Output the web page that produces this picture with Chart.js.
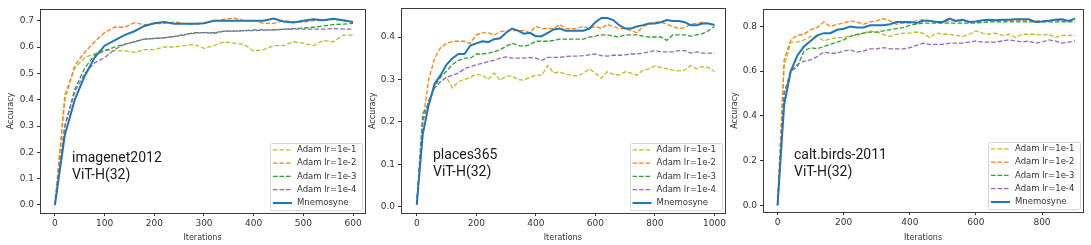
<!DOCTYPE html>
<html>
<head>
<meta charset="utf-8">
<script src="https://cdn.jsdelivr.net/npm/chart.js@4/dist/chart.umd.min.js"></script>
<style>
    body { margin: 0; background: #fff; }
    #wrap { position: relative; width: 1091px; height: 245px; overflow: hidden; }
    #wrap canvas { position: absolute; top: 0; }
    .note { position: absolute; font-family: Roboto, "Noto Sans", sans-serif; font-size: 14px; line-height: 17px; color: #1a1a1a; white-space: pre; }
</style>
</head>
<body>
<div id="wrap">
    <canvas id="chart1" width="370" height="245" style="left:0px"></canvas>
    <canvas id="chart2" width="366" height="245" style="left:362px"></canvas>
    <canvas id="chart3" width="367" height="245" style="left:724px"></canvas>
    <div class="note" style="left:72px;top:149px">imagenet2012
ViT-H(32)</div>
    <div class="note" style="left:433px;top:146px">places365
ViT-H(32)</div>
    <div class="note" style="left:794px;top:146px">calt.birds-2011
ViT-H(32)</div>
</div>
<script>
    "use strict";

    var seriesNames = ['Adam lr=1e-1', 'Adam lr=1e-2', 'Adam lr=1e-3', 'Adam lr=1e-4', 'Mnemosyne'];

    // imagenet2012
    var iters1 = [0, 20, 40, 60, 80, 100, 120, 140, 160, 180, 200, 220, 240, 260, 280, 300,
        320, 340, 360, 380, 400, 420, 440, 460, 480, 500, 520, 540, 560, 580, 600];
    var img_lr1 = [0, 0.42, 0.52, 0.56, 0.575, 0.59, 0.585, 0.585, 0.58, 0.59, 0.59, 0.60, 0.60, 0.605, 0.61, 0.595,
        0.605, 0.62, 0.615, 0.61, 0.585, 0.59, 0.605, 0.605, 0.62, 0.615, 0.605, 0.625, 0.62, 0.645, 0.645];
    var img_lr2 = [0, 0.40, 0.53, 0.58, 0.62, 0.655, 0.675, 0.675, 0.692, 0.685, 0.688, 0.69, 0.695, 0.69, 0.685, 0.69,
        0.70, 0.705, 0.71, 0.70, 0.70, 0.69, 0.69, 0.70, 0.695, 0.695, 0.70, 0.70, 0.705, 0.70, 0.695];
    var img_lr3 = [0, 0.30, 0.44, 0.52, 0.57, 0.585, 0.60, 0.61, 0.62, 0.63, 0.632, 0.635, 0.64, 0.645, 0.655, 0.655,
        0.652, 0.66, 0.66, 0.662, 0.665, 0.665, 0.665, 0.668, 0.67, 0.672, 0.675, 0.68, 0.685, 0.687, 0.69];
    var img_lr4 = [0, 0.30, 0.43, 0.50, 0.54, 0.56, 0.59, 0.61, 0.62, 0.63, 0.633, 0.635, 0.64, 0.648, 0.652, 0.655,
        0.655, 0.66, 0.66, 0.662, 0.662, 0.664, 0.665, 0.667, 0.668, 0.668, 0.668, 0.668, 0.67, 0.668, 0.668];
    var img_mn = [0, 0.266, 0.40, 0.49, 0.56, 0.605, 0.625, 0.645, 0.66, 0.68, 0.69, 0.695, 0.688, 0.688, 0.688, 0.69,
        0.70, 0.70, 0.70, 0.70, 0.70, 0.70, 0.708, 0.697, 0.693, 0.70, 0.705, 0.702, 0.707, 0.702, 0.695];
    var xTicks1 = [0, 100, 200, 300, 400, 500, 600];
    var yTicks1 = [0.0, 0.1, 0.2, 0.3, 0.4, 0.5, 0.6, 0.7];

    // places365
    var iters2 = [0, 20, 40, 60, 80, 100, 120, 140, 160, 180, 200, 220, 240, 260, 280, 300, 320, 340, 360, 380,
        400, 420, 440, 460, 480, 500, 520, 540, 560, 580, 600, 620, 640, 660, 680, 700, 720, 740, 760, 780,
        800, 820, 840, 860, 880, 900, 920, 940, 960, 980, 1000];
    var pl_lr1 = [0.005, 0.2, 0.25, 0.28, 0.295, 0.305, 0.28, 0.295, 0.30, 0.305, 0.312, 0.31, 0.30, 0.315, 0.298,
        0.308, 0.308, 0.30, 0.298, 0.305, 0.31, 0.31, 0.333, 0.315, 0.318, 0.312, 0.31, 0.308, 0.315, 0.325,
        0.315, 0.303, 0.318, 0.312, 0.31, 0.318, 0.315, 0.31, 0.322, 0.325, 0.332, 0.328, 0.325, 0.322, 0.32,
        0.322, 0.333, 0.325, 0.33, 0.328, 0.318];
    var pl_lr2 = [0.005, 0.2, 0.3, 0.35, 0.375, 0.385, 0.39, 0.39, 0.39, 0.385, 0.405, 0.41, 0.41, 0.405, 0.412,
        0.415, 0.415, 0.415, 0.415, 0.41, 0.425, 0.42, 0.42, 0.42, 0.43, 0.42, 0.42, 0.42, 0.425, 0.42,
        0.425, 0.42, 0.43, 0.425, 0.42, 0.42, 0.415, 0.41, 0.425, 0.43, 0.435, 0.435, 0.43, 0.425, 0.42,
        0.422, 0.43, 0.432, 0.435, 0.432, 0.43];
    var pl_lr3 = [0.005, 0.22, 0.24, 0.285, 0.305, 0.32, 0.335, 0.345, 0.35, 0.35, 0.36, 0.36, 0.362, 0.365, 0.37,
        0.378, 0.385, 0.38, 0.378, 0.382, 0.39, 0.39, 0.39, 0.392, 0.395, 0.395, 0.395, 0.395, 0.395, 0.40,
        0.402, 0.405, 0.405, 0.402, 0.40, 0.405, 0.405, 0.405, 0.402, 0.40, 0.40, 0.40, 0.392, 0.405, 0.405,
        0.405, 0.402, 0.405, 0.408, 0.415, 0.425];
    var pl_lr4 = [0.005, 0.2, 0.25, 0.28, 0.295, 0.305, 0.31, 0.315, 0.325, 0.33, 0.335, 0.338, 0.342, 0.345, 0.35,
        0.353, 0.35, 0.35, 0.35, 0.352, 0.35, 0.345, 0.352, 0.352, 0.352, 0.354, 0.355, 0.355, 0.356, 0.358,
        0.36, 0.356, 0.355, 0.357, 0.357, 0.358, 0.36, 0.36, 0.362, 0.365, 0.368, 0.365, 0.365, 0.365, 0.368,
        0.368, 0.362, 0.365, 0.362, 0.362, 0.362];
    var pl_mn = [0.005, 0.17, 0.24, 0.29, 0.31, 0.335, 0.35, 0.36, 0.36, 0.38, 0.385, 0.39, 0.388, 0.395, 0.397,
        0.41, 0.42, 0.415, 0.408, 0.41, 0.402, 0.402, 0.41, 0.418, 0.42, 0.415, 0.415, 0.415, 0.415, 0.42,
        0.435, 0.445, 0.445, 0.44, 0.428, 0.42, 0.42, 0.425, 0.428, 0.432, 0.432, 0.435, 0.44, 0.438, 0.438,
        0.435, 0.428, 0.428, 0.432, 0.432, 0.428];
    var xTicks2 = [0, 200, 400, 600, 800, 1000];
    var yTicks2 = [0.0, 0.1, 0.2, 0.3, 0.4];

    // calt.birds-2011
    var iters3 = [0, 20, 40, 60, 80, 100, 120, 140, 160, 180, 200, 220, 240, 260, 280, 300, 320, 340, 360, 380,
        400, 420, 440, 460, 480, 500, 520, 540, 560, 580, 600, 620, 640, 660, 680, 700, 720, 740, 760, 780,
        800, 820, 840, 860, 880, 900];
    var cb_lr1 = [0, 0.62, 0.73, 0.73, 0.74, 0.755, 0.755, 0.735, 0.745, 0.75, 0.75, 0.76, 0.76, 0.77, 0.78,
        0.775, 0.765, 0.755, 0.765, 0.77, 0.77, 0.775, 0.77, 0.75, 0.77, 0.765, 0.765, 0.76, 0.755, 0.765,
        0.78, 0.77, 0.765, 0.77, 0.76, 0.765, 0.75, 0.765, 0.765, 0.765, 0.76, 0.765, 0.75, 0.76, 0.76, 0.76];
    var cb_lr2 = [0, 0.65, 0.74, 0.76, 0.765, 0.785, 0.795, 0.82, 0.80, 0.81, 0.815, 0.825, 0.82, 0.81, 0.82,
        0.825, 0.835, 0.825, 0.81, 0.815, 0.815, 0.825, 0.83, 0.825, 0.82, 0.82, 0.825, 0.825, 0.825, 0.822,
        0.82, 0.825, 0.825, 0.825, 0.825, 0.825, 0.828, 0.825, 0.825, 0.825, 0.825, 0.825, 0.828, 0.825, 0.825, 0.825];
    var cb_lr3 = [0, 0.5, 0.6, 0.62, 0.69, 0.705, 0.70, 0.71, 0.72, 0.73, 0.74, 0.755, 0.765, 0.77, 0.775,
        0.775, 0.78, 0.785, 0.79, 0.795, 0.805, 0.81, 0.815, 0.815, 0.815, 0.815, 0.815, 0.815, 0.815, 0.815,
        0.815, 0.818, 0.82, 0.82, 0.82, 0.82, 0.82, 0.82, 0.82, 0.82, 0.82, 0.82, 0.82, 0.82, 0.82, 0.82];
    var cb_lr4 = [0, 0.5, 0.6, 0.63, 0.645, 0.65, 0.665, 0.685, 0.68, 0.68, 0.69, 0.695, 0.685, 0.69, 0.70,
        0.70, 0.705, 0.70, 0.70, 0.70, 0.705, 0.715, 0.725, 0.72, 0.72, 0.72, 0.725, 0.725, 0.725, 0.73,
        0.735, 0.73, 0.73, 0.73, 0.735, 0.74, 0.735, 0.73, 0.735, 0.725, 0.73, 0.74, 0.735, 0.725, 0.73, 0.735];
    var cb_mn = [0, 0.45, 0.6, 0.67, 0.71, 0.735, 0.76, 0.77, 0.77, 0.785, 0.79, 0.8, 0.795, 0.795, 0.805,
        0.805, 0.805, 0.81, 0.82, 0.82, 0.82, 0.815, 0.825, 0.825, 0.82, 0.82, 0.835, 0.825, 0.83, 0.82,
        0.822, 0.828, 0.83, 0.828, 0.83, 0.83, 0.832, 0.832, 0.832, 0.82, 0.822, 0.825, 0.83, 0.832, 0.825, 0.835];
    var xTicks3 = [0, 200, 400, 600, 800];
    var yTicks3 = [0.0, 0.2, 0.4, 0.6, 0.8];

    // matplotlib tab10 colours, dashed for the Adam runs
    var colors = ['#bcbd22', '#ff7f0e', '#2ca02c', '#9467bd', '#1f77b4'];
    var tickFont = { family: '"DejaVu Sans"', size: 9 };
    var labelFont = { family: '"DejaVu Sans"', size: 8 };
    var textColor = '#333';

    // axes frame (all four spines)
    var framePlugin = {
        id: 'frame',
        afterDatasetsDraw: function(chart) {
            var a = chart.chartArea;
            var ctx = chart.ctx;
            ctx.save();
            ctx.strokeStyle = '#3c3c3c';
            ctx.lineWidth = 1;
            ctx.strokeRect(Math.round(a.left) + 0.5, Math.round(a.top) + 0.5,
                Math.round(a.right - a.left), Math.round(a.bottom - a.top));
            ctx.restore();
        }
    };

    // legend box in the lower right corner of the axes
    var legendPlugin = {
        id: 'cornerLegend',
        afterDraw: function(chart) {
            var a = chart.chartArea;
            var ctx = chart.ctx;
            var sets = chart.data.datasets;
            var rowH = 13.3;
            var w = 92, h = 14 + rowH * (sets.length - 1);
            var left = a.right - 3 - w, top = a.bottom - 3 - h;
            ctx.save();
            ctx.fillStyle = 'rgba(255,255,255,0.85)';
            ctx.strokeStyle = '#d4d4d4';
            ctx.lineWidth = 1;
            ctx.beginPath();
            ctx.roundRect(Math.round(left) + 0.5, Math.round(top) + 0.5, w, h, 2);
            ctx.fill();
            ctx.stroke();
            ctx.font = '8.5px "DejaVu Sans"';
            ctx.textBaseline = 'middle';
            sets.forEach(function(ds, i) {
                var y = top + 7 + i * rowH;
                ctx.strokeStyle = ds.borderColor;
                ctx.lineWidth = ds.borderWidth;
                ctx.setLineDash(ds.borderDash || []);
                ctx.beginPath();
                ctx.moveTo(left + 3, y);
                ctx.lineTo(left + 22, y);
                ctx.stroke();
                ctx.setLineDash([]);
                ctx.fillStyle = textColor;
                ctx.fillText(ds.label, left + 27, y);
            });
            ctx.restore();
        }
    };

    function makePanel(id, p) {
        var datasets = p.series.map(function(vals, i) {
            var last = i === p.series.length - 1;
            return {
                label: seriesNames[i],
                data: p.iters.map(function(x, j) { return { x: x, y: vals[j] }; }),
                borderColor: colors[i],
                borderWidth: last ? 2 : 1.3,
                borderDash: last ? [] : [4.5, 2],
                pointRadius: 0,
                tension: 0,
                fill: false,
                order: p.series.length - i
            };
        });

        new Chart(document.getElementById(id), {
            type: 'line',
            data: { datasets: datasets },
            options: {
                responsive: false,
                animation: false,
                layout: { padding: { top: p.top, right: p.right, left: 0, bottom: 0 } },
                plugins: { legend: { display: false }, tooltip: { enabled: false } },
                scales: {
                    x: {
                        type: 'linear',
                        min: p.xMin,
                        max: p.xMax,
                        afterBuildTicks: function(axis) {
                            axis.ticks = p.xTicks.map(function(v) { return { value: v }; });
                        },
                        afterFit: function(axis) { axis.height = p.xHeight; },
                        grid: { drawOnChartArea: false, drawTicks: true, tickLength: 3, color: '#333' },
                        border: { display: false },
                        ticks: {
                            font: tickFont, color: textColor, padding: 2, maxRotation: 0, autoSkip: false,
                            callback: function(v) { return String(v); }
                        },
                        title: { display: true, text: 'Iterations', font: labelFont, color: textColor, padding: { top: 0, bottom: 2 } }
                    },
                    y: {
                        min: p.yMin,
                        max: p.yMax,
                        afterBuildTicks: function(axis) {
                            axis.ticks = p.yTicks.map(function(v) { return { value: v }; });
                        },
                        afterFit: function(axis) { axis.width = p.yWidth; },
                        grid: { drawOnChartArea: false, drawTicks: true, tickLength: 3, color: '#333' },
                        border: { display: false },
                        ticks: {
                            font: tickFont, color: textColor, padding: 3, autoSkip: false,
                            callback: function(v) { return Number(v).toFixed(1); }
                        },
                        title: { display: true, text: 'Accuracy', font: labelFont, color: textColor, padding: { top: 6, bottom: 0 } }
                    }
                }
            },
            plugins: [framePlugin, legendPlugin]
        });
    }

    makePanel('chart1', {
        iters: iters1, series: [img_lr1, img_lr2, img_lr3, img_lr4, img_mn],
        xTicks: xTicks1, yTicks: yTicks1, xMin: -30, xMax: 624, yMin: -0.0304, yMax: 0.7444,
        top: 9, right: 5, yWidth: 40, xHeight: 32
    });
    makePanel('chart2', {
        iters: iters2, series: [pl_lr1, pl_lr2, pl_lr3, pl_lr4, pl_mn],
        xTicks: xTicks2, yTicks: yTicks2, xMin: -53, xMax: 1034, yMin: -0.015, yMax: 0.4675,
        top: 8, right: 3, yWidth: 39, xHeight: 32
    });
    makePanel('chart3', {
        iters: iters3, series: [cb_lr1, cb_lr2, cb_lr3, cb_lr4, cb_mn],
        xTicks: xTicks3, yTicks: yTicks3, xMin: -44, xMax: 924, yMin: -0.03, yMax: 0.878,
        top: 9, right: 8, yWidth: 39, xHeight: 33
    });
</script>
</body>
</html>
